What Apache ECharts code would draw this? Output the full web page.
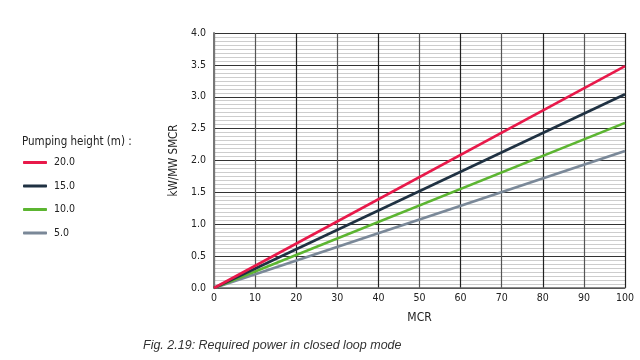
<!DOCTYPE html>
<html><head><meta charset="utf-8">
<script src="https://cdn.jsdelivr.net/npm/echarts@6/dist/echarts.min.js"></script>
<style>html,body{margin:0;padding:0;background:#fff}#c{width:640px;height:360px}</style>
</head><body><div id="c"></div>
<script>
const seriesNames = ['20.0', '15.0', '10.0', '5.0'];
const seriesColors = ['#e8194a', '#1f3142', '#5cb531', '#7a8898'];
const mcr = [0, 100];
const val20 = [0, 3.48];
const val15 = [0, 3.04];
const val10 = [0, 2.59];
const val5 = [0, 2.15];
const xTicks = [0,10,20,30,40,50,60,70,80,90,100];
const yTicks = ['0.0','0.5','1.0','1.5','2.0','2.5','3.0','3.5','4.0'];

const FONT = '"DejaVu Sans Condensed","Liberation Sans",Arial,sans-serif';
const allVals = [val20, val15, val10, val5];
const chart = echarts.init(document.getElementById('c'), null, {renderer:'canvas'});
chart.setOption({
  animation: false,
  textStyle: {fontFamily: FONT},
  grid: {left: 214, right: 15, top: 33, bottom: 72},
  title: {text: 'Pumping height (m) :', left: 17, top: 131,
    textStyle: {fontFamily: FONT, fontSize: 11.5, fontWeight: 'normal', color: '#222'}},
  legend: {
    orient: 'vertical', left: 18, top: 152, itemGap: 12.5,
    itemWidth: 24, itemHeight: 3, icon: 'roundRect',
    data: seriesNames,
    textStyle: {fontFamily: FONT, fontSize: 10.5, color: '#222', padding: [0,0,0,2]}
  },
  graphic: [{type: 'text', left: 143, top: 339,
    style: {text: 'Fig. 2.19: Required power in closed loop mode', font: 'italic 12.5px "Liberation Sans", Arial, sans-serif', fill: '#333'}}],
  xAxis: {
    type: 'value', min: 0, max: 100, interval: 10,
    name: 'MCR', nameLocation: 'middle', nameGap: 24,
    nameTextStyle: {fontFamily: FONT, fontSize: 12, color: '#222'},
    axisLine: {show: true, lineStyle: {color: '#666', width: 1.5}},
    axisTick: {show: false},
    axisLabel: {fontFamily: FONT, fontSize: 10.5, color: '#222', margin: 5,
      formatter: v => String(xTicks[Math.round(v/10)])},
    splitLine: {show: true, lineStyle: {color: ['#222','#555'], width: 1.2}}
  },
  yAxis: {
    type: 'value', min: 0, max: 4, interval: 0.5,
    name: 'kW/MW SMCR', nameLocation: 'middle', nameGap: 26, nameRotate: 90,
    nameTextStyle: {fontFamily: FONT, fontSize: 11.5, color: '#222'},
    axisLine: {show: true, lineStyle: {color: '#777', width: 2}},
    axisTick: {show: false},
    axisLabel: {fontFamily: FONT, fontSize: 10.5, color: '#222', margin: 8,
      formatter: v => yTicks[Math.round(v/0.5)]},
    splitLine: {show: true, lineStyle: {color: '#333', width: 1.2}},
    minorTick: {show: false, splitNumber: 8},
    minorSplitLine: {show: true, lineStyle: {color: '#cdcdcd', width: 1.2}}
  },
  series: seriesNames.map((n, i) => ({
    name: n, type: 'line', symbol: 'none', z: 5 - i,
    lineStyle: {color: seriesColors[i], width: 2.6},
    itemStyle: {color: seriesColors[i]},
    data: mcr.map((x, j) => [x, allVals[i][j]])
  }))
});
</script></body></html>
